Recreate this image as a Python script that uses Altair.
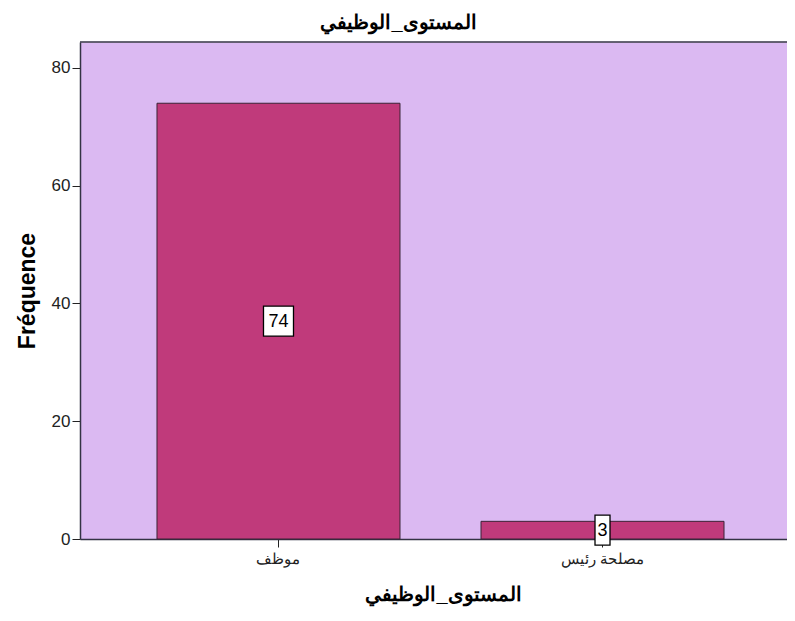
import altair as alt
import pandas as pd

categories = ["موظف", "مصلحة رئيس"]
counts = [74, 3]
labels = ["74", "3"]
y_ticks = [0, 20, 40, 60, 80]

FONT = "Liberation Sans"
df = pd.DataFrame({"cat": categories, "count": counts, "label": labels})

xscale = alt.Scale(domain=categories, paddingInner=0.25, paddingOuter=0.216, align=0.55)
yscale = alt.Scale(domain=[0, 84.4], nice=False, zero=True)

x_enc = alt.X(
    "cat:N", sort=categories, scale=xscale, title="المستوى_الوظيفي",
    axis=alt.Axis(labelAngle=0, labelFont=FONT, labelFontSize=15, labelColor="#222",
                  tickColor="#222", tickSize=8, labelPadding=4,
                  domainColor="#333344", domainWidth=1.5,
                  titleFont=FONT, titleFontSize=20, titleFontWeight="bold",
                  titleColor="#000", titlePadding=18, titleX=363),
)
y_enc = alt.Y(
    "count:Q", scale=yscale, title="Fréquence",
    axis=alt.Axis(values=y_ticks, grid=False, labelFont=FONT, labelFontSize=17,
                  labelColor="#222", tickColor="#222", tickSize=8, labelPadding=2,
                  domainColor="#333344", domainWidth=1.5,
                  titleFont=FONT, titleFontSize=23, titleFontWeight="bold",
                  titleColor="#000", titlePadding=12),
)

bars = alt.Chart(df).mark_bar(color="#C03A7B", stroke="#3b2336", strokeWidth=1).encode(
    x=x_enc, y=y_enc
)

box_paths = ["M-1,-1H1V1H-1Z", "M-0.5,-1H0.5V1H-0.5Z"]
boxes = alt.Chart(df).transform_calculate(mid="datum.count / 2").mark_point(
    filled=True, fill="white", stroke="black", strokeWidth=1.3, opacity=1, size=900
).encode(
    x=alt.X("cat:N", sort=categories, scale=xscale),
    y=alt.Y("mid:Q", scale=yscale),
    shape=alt.Shape("label:N", scale=alt.Scale(domain=labels, range=box_paths), legend=None),
)

texts = alt.Chart(df).transform_calculate(mid="datum.count / 2").mark_text(
    font=FONT, fontSize=18, color="black", baseline="middle", align="center", dy=1
).encode(
    x=alt.X("cat:N", sort=categories, scale=xscale),
    y=alt.Y("mid:Q", scale=yscale),
    text="label:N",
)

top_border = alt.Chart(pd.DataFrame({"k": [0]})).mark_rule(
    color="#333344", strokeWidth=1.5
).encode(x=alt.value(0), x2=alt.value(707), y=alt.value(0))

chart = alt.layer(bars, boxes, texts, top_border).properties(
    width=707,
    height=497,
    autosize=alt.AutoSizeParams(type="none"),
    padding={"left": 72, "top": 34, "right": 0, "bottom": 82},
    background="white",
    title=alt.TitleParams("المستوى_الوظيفي", font=FONT, fontSize=20, fontWeight="bold",
                          color="#000", dx=-35, offset=8, anchor="middle"),
).configure_view(fill="#DBB9F2", stroke="transparent")

chart.save("out.html", embed_options={"renderer": "svg", "actions": False})
